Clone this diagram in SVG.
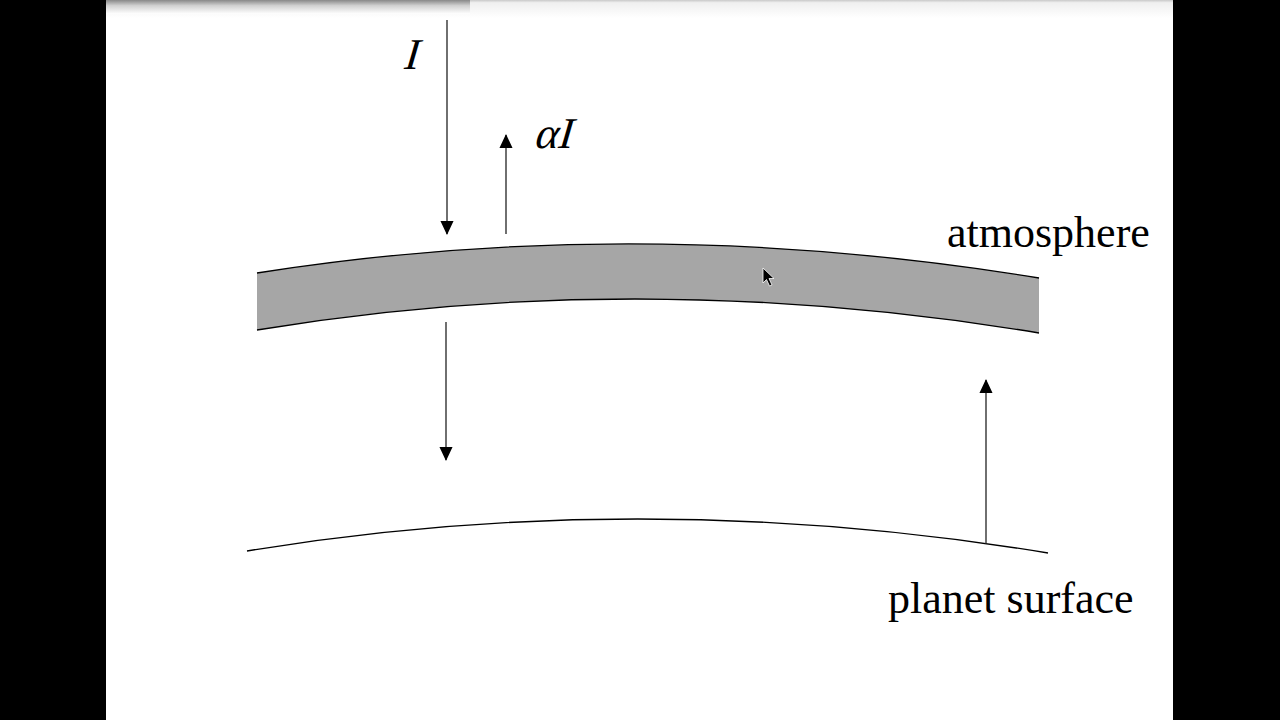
<svg xmlns="http://www.w3.org/2000/svg" width="1280" height="720" viewBox="0 0 1280 720">
  <style>
    .lbl { font-family: "Liberation Serif", "Times New Roman", serif; font-size: 44px; fill: #000; }
    .arr { stroke: #222; stroke-width: 1.3; fill: none; }
    .curve { stroke: #000; stroke-width: 1.3; fill: none; }
  </style>
  <defs>
    <marker id="head" viewBox="0 0 14 15" refX="14" refY="7" markerWidth="15" markerHeight="14" markerUnits="userSpaceOnUse" orient="auto">
      <path d="M0,0 L15,7 L0,14 Z" fill="#000"/>
    </marker>
    <linearGradient id="shadowDark" x1="0" y1="0" x2="0" y2="1">
      <stop offset="0" stop-color="#888"/>
      <stop offset="0.4" stop-color="#d0d0d0"/>
      <stop offset="1" stop-color="#fff"/>
    </linearGradient>
    <linearGradient id="shadowLight" x1="0" y1="0" x2="0" y2="1">
      <stop offset="0" stop-color="#c8c8c8"/>
      <stop offset="0.15" stop-color="#efefef"/>
      <stop offset="1" stop-color="#fff"/>
    </linearGradient>
  </defs>

  <!-- letterbox -->
  <rect x="0" y="0" width="1280" height="720" fill="#000"/>
  <rect x="106" y="0" width="1067" height="720" fill="#fff"/>
  <rect x="106" y="0" width="1067" height="18" fill="url(#shadowLight)"/>
  <rect x="106" y="0" width="364" height="14" fill="url(#shadowDark)"/>

  <!-- atmosphere band -->
  <g id="atmosphere">
    <path d="M257,273 Q640,212.5 1039,278 L1039,333 Q640,266.5 257,330 Z" fill="#a6a6a6"/>
    <path class="curve" d="M257,273 Q640,212.5 1039,278"/>
    <path class="curve" d="M257,330 Q640,266.5 1039,333"/>
    <text class="lbl" x="947" y="247">atmosphere</text>
  </g>

  <!-- planet surface -->
  <g id="surface">
    <path class="curve" d="M247,551 Q640,486 1048,553" stroke-width="1.5"/>
    <text class="lbl" x="888" y="613">planet surface</text>
  </g>

  <!-- labels -->
  <g id="label-I" transform="translate(402,69) skewX(-16)">
    <text class="lbl" x="0" y="0">I</text>
  </g>
  <g id="label-aI" transform="translate(533,148) skewX(-16)">
    <text class="lbl" x="0" y="0">αI</text>
  </g>

  <!-- connectors -->
  <g id="connectors">
    <line class="arr" x1="447" y1="20" x2="447" y2="234" marker-end="url(#head)"/>
    <line class="arr" x1="506" y1="234" x2="506" y2="135" marker-end="url(#head)"/>
    <line class="arr" x1="446" y1="322" x2="446" y2="460" marker-end="url(#head)"/>
    <line class="arr" x1="986" y1="544" x2="986" y2="380" marker-end="url(#head)"/>
  </g>

  <!-- mouse cursor -->
  <path d="M763,268 L763,283 L766.5,279.5 L769.5,286 L772,285 L769,278.5 L774,278.5 Z" fill="#000" stroke="#fff" stroke-width="0.8"/>
</svg>
